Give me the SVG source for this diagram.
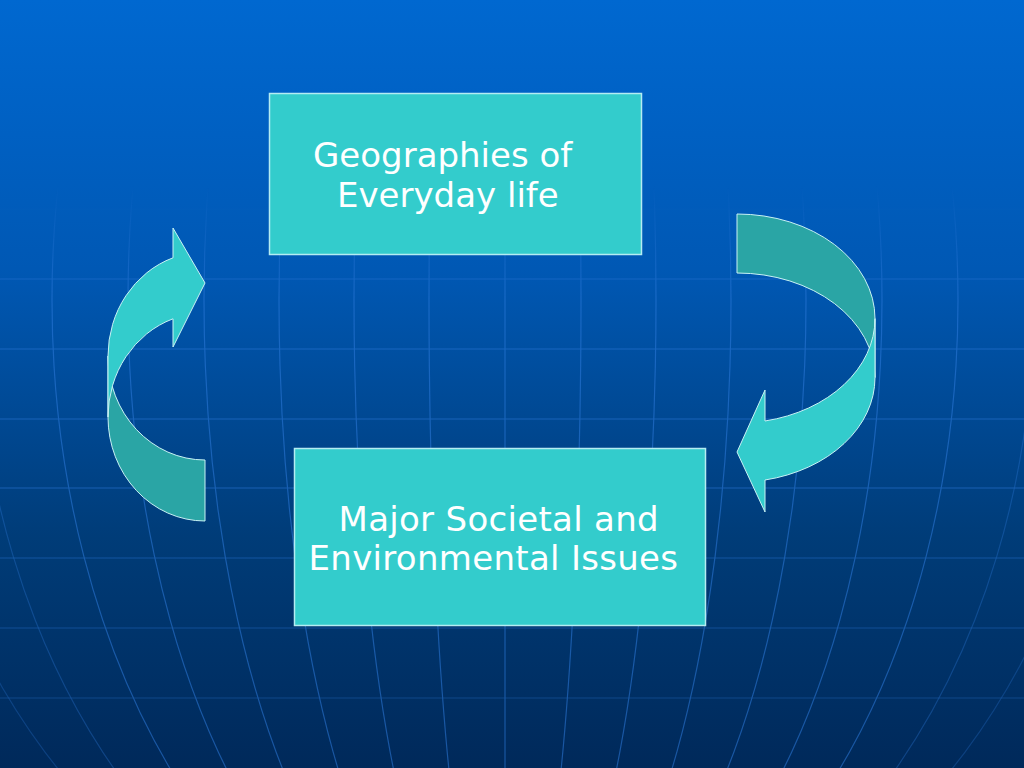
<svg xmlns="http://www.w3.org/2000/svg" width="1024" height="768" viewBox="0 0 1024 768">
  <defs>
    <linearGradient id="bg" x1="0" y1="0" x2="0" y2="1">
      <stop offset="0" stop-color="#0068D0"/>
      <stop offset="0.35" stop-color="#0058B4"/>
      <stop offset="0.7" stop-color="#003C78"/>
      <stop offset="1" stop-color="#00295A"/>
    </linearGradient>
    <linearGradient id="fade" gradientUnits="userSpaceOnUse" x1="0" y1="185" x2="0" y2="300">
      <stop offset="0" stop-color="#000"/>
      <stop offset="1" stop-color="#fff"/>
    </linearGradient>
    <mask id="gridmask" maskUnits="userSpaceOnUse" x="0" y="0" width="1024" height="768">
      <rect x="0" y="0" width="1024" height="768" fill="url(#fade)"/>
    </mask>
    <style>
      .grid { fill: none; stroke: #2E7BDB; stroke-width: 1.2; opacity: 0.55; }
      .box { fill: #33CCCC; stroke: #B4ECF2; stroke-width: 1.5; }
      .front { fill: #33CCCC; stroke: #C8F2F4; stroke-width: 1; stroke-linejoin: round; }
      .back { fill: #2AA5A5; stroke: #C8F2F4; stroke-width: 1; stroke-linejoin: round; }
      .label { font-family: "DejaVu Sans", Verdana, "Liberation Sans", sans-serif; font-size: 34px; fill: #FFFFFF; }
      .wide { letter-spacing: 0.3px; }
    </style>
  </defs>

  <rect x="0" y="0" width="1024" height="768" fill="url(#bg)"/>

  <g id="background-grid" mask="url(#gridmask)">
    <g class="grid">
      <line x1="0" y1="209" x2="1024" y2="209" opacity="0.5"/>
      <line x1="0" y1="279" x2="1024" y2="279"/>
      <line x1="0" y1="349" x2="1024" y2="349"/>
      <line x1="0" y1="419" x2="1024" y2="419"/>
      <line x1="0" y1="488" x2="1024" y2="488"/>
      <line x1="0" y1="558" x2="1024" y2="558" opacity="0.8"/>
      <line x1="0" y1="628" x2="1024" y2="628" opacity="0.7"/>
      <line x1="0" y1="698" x2="1024" y2="698" opacity="0.6"/>
      <line x1="505" y1="0" x2="505" y2="768"/>
      <ellipse cx="505" cy="300" rx="76" ry="696"/>
      <ellipse cx="505" cy="300" rx="151" ry="696"/>
      <ellipse cx="505" cy="300" rx="226" ry="696"/>
      <ellipse cx="505" cy="300" rx="301" ry="696"/>
      <ellipse cx="505" cy="300" rx="377" ry="696"/>
      <ellipse cx="505" cy="300" rx="453" ry="696"/>
      <ellipse cx="505" cy="300" rx="529" ry="696" opacity="0.6"/>
      <ellipse cx="505" cy="300" rx="605" ry="696" opacity="0.5"/>
    </g>
  </g>

  <g id="connectors">
    <g id="arrow-left">
      <path class="back" d="M205,460 A97,104 0 0 1 108,356 L108,417 A97,104 0 0 0 205,521 Z"/>
      <path class="front" d="M108,356 A97,104 0 0 1 173,257.8 L173,228 L205,283 L173,347 L173,318.8 A97,104 0 0 0 108,417 Z"/>
    </g>
    <g id="arrow-right">
      <path class="back" d="M737,214 A138,104.6 0 0 1 875,318.6 L875,377.6 A138,104.6 0 0 0 737,273 Z"/>
      <path class="front" d="M875,377.6 A138,104.6 0 0 1 765,480 L765,512 L737,452 L765,390 L765,421 A138,104.6 0 0 0 875,318.6 Z"/>
    </g>
  </g>

  <g id="node-top">
    <rect class="box" x="269.5" y="93.5" width="372" height="161"/>
    <text class="label" x="313" y="167">Geographies of</text>
    <text class="label" x="337" y="207">Everyday life</text>
  </g>

  <g id="node-bottom">
    <rect class="box" x="294.5" y="448.5" width="411" height="177"/>
    <text class="label wide" x="338.5" y="531">Major Societal and</text>
    <text class="label wide" x="308.5" y="570">Environmental Issues</text>
  </g>
</svg>
